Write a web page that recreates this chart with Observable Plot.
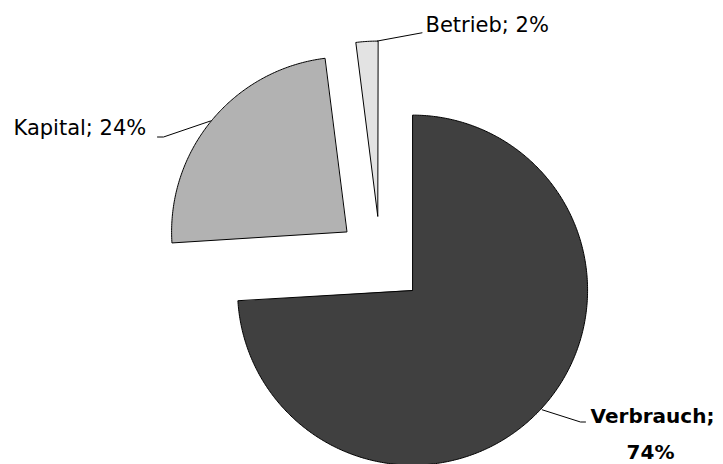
<!DOCTYPE html>
<html><head><meta charset="utf-8">
<script src="https://cdn.jsdelivr.net/npm/d3@7"></script>
<script src="https://cdn.jsdelivr.net/npm/@observablehq/plot@0.6"></script>
<style>body{margin:0;background:#fff}</style>
</head><body><div id="chart"></div>
<script>
// ---- data ----
const categories = ["Verbrauch", "Kapital", "Betrieb"];
const shares = [74, 24, 2];

// ---- style / layout ----
const fills = ["#404040", "#b2b2b2", "#e3e3e3"];
const W = 723, H = 464, CX = 380, CY = 259.5, R = 175, EXPLODE = 44;
const px = v => (v - CX) / R, py = v => (CY - v) / R;
// label layout in pixels: leader polyline, text anchor
const labelLayout = {
  Verbrauch: {leader: [[541.7, 409.3], [580, 421.5], [585, 421.5]], lines: [
    {x: 652, y: 422.5, anchor: "middle", bold: true, text: d => d.category + ";"},
    {x: 650, y: 458, anchor: "middle", bold: true, text: d => d.share + "%"}]},
  Kapital: {leader: [[210, 120.5], [163, 136.5], [157, 136.5]], lines: [
    {x: 13, y: 134.5, anchor: "start", bold: false, text: d => d.category + "; " + d.share + "%"}]},
  Betrieb: {leader: [[377, 40.5], [421.5, 32.3]], lines: [
    {x: 425, y: 31, anchor: "start", bold: false, text: d => d.category + "; " + d.share + "%"}]}
};

const rows = categories.map((c, i) => ({category: c, share: shares[i], fill: fills[i]}));
const arcs = d3.pie().sort(null).value(d => d.share)(rows);
const off = EXPLODE / R;

function slicePolygon(a) {
  const m = (a.startAngle + a.endAngle) / 2;
  const ox = off * Math.sin(m), oy = off * Math.cos(m);
  const n = Math.max(2, Math.ceil((a.endAngle - a.startAngle) / 0.01));
  const pts = [{x: ox, y: oy}];
  for (let k = 0; k <= n; k++) {
    const t = a.startAngle + (a.endAngle - a.startAngle) * k / n;
    pts.push({x: ox + Math.sin(t), y: oy + Math.cos(t)});
  }
  return pts;
}

const marks = [];
for (const a of arcs) {
  marks.push(Plot.line(slicePolygon(a), {
    x: "x", y: "y", curve: "linear-closed",
    fill: a.data.fill, stroke: "#000", strokeWidth: 1, strokeLinejoin: "miter", strokeMiterlimit: 10
  }));
}
for (const r of rows) {
  const L = labelLayout[r.category];
  marks.push(Plot.line(L.leader.map(([x, y]) => ({x: px(x), y: py(y)})), {
    x: "x", y: "y", stroke: "#000", strokeWidth: 1
  }));
  for (const ln of L.lines) {
    marks.push(Plot.text([r], {
      x: () => px(ln.x), y: () => py(ln.y), text: ln.text,
      textAnchor: ln.anchor, lineAnchor: "bottom",
      fontSize: ln.bold ? 20 : 21, fontWeight: ln.bold ? "bold" : "normal",
      fill: "#000", fontFamily: "DejaVu Sans"
    }));
  }
}

const chart = Plot.plot({
  width: W, height: H, margin: 0,
  x: {domain: [px(0), px(W)], axis: null},
  y: {domain: [py(H), py(0)], axis: null},
  style: {background: "#fff", fontFamily: "DejaVu Sans"},
  marks
});
document.getElementById("chart").append(chart);
</script>
</body></html>
